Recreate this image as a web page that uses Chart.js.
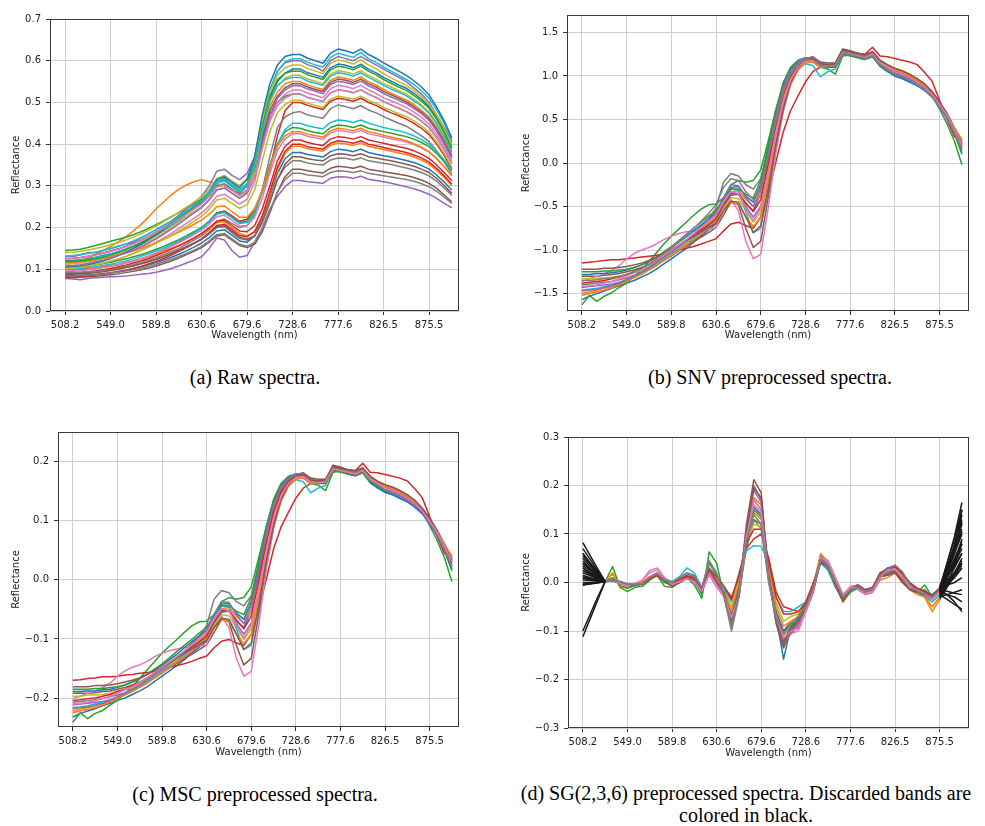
<!DOCTYPE html>
<html>
<head>
<meta charset="utf-8">
<script src="https://cdn.jsdelivr.net/npm/chart.js@4.4.1/dist/chart.umd.min.js"></script>
<style>
  body { margin: 0; background: #fff; width: 985px; height: 826px; position: relative; overflow: hidden; }
  .panel { position: absolute; }
  .cap { position: absolute; font-family: "Liberation Serif", "Times New Roman", serif; font-size: 20px;
         line-height: 22px; color: #000; text-align: center; white-space: nowrap; }
</style>
</head>
<body>
<div class="cap" style="left:0;width:510px;top:366px">(a) Raw spectra.</div>
<div class="cap" style="left:530px;width:480px;top:366px">(b) SNV preprocessed spectra.</div>
<div class="cap" style="left:0;width:510px;top:783px">(c) MSC preprocessed spectra.</div>
<div class="cap" style="left:496px;width:500px;top:782px">(d) SG(2,3,6) preprocessed spectra. Discarded bands are<br>colored in black.</div>
<script>
/* Spectra preprocessing figure — four Chart.js panels */

// ── Axes ────────────────────────────────────────────────────────────────────

const BANDS = [0,1,2,3,4,5,6,7,8,9,10,11,12,13,14,15,16,17,18,19,20,21,22,23,24,25,
               26,27,28,29,30,31,32,33,34,35,36,37,38,39,40,41,42,43,44,45,46,47,48,49,50,51];
const TICK_BANDS = [0, 6, 12, 18, 24, 30, 36, 42, 48];
const TICK_LABELS = ['508.2', '549.0', '589.8', '630.6', '679.6', '728.6', '777.6', '826.5', '875.5'];

const RAW_Y_TICKS = [0, 0.1, 0.2, 0.3, 0.4, 0.5, 0.6, 0.7];
const SNV_Y_TICKS = [-1.5, -1, -0.5, 0, 0.5, 1, 1.5];
const MSC_Y_TICKS = [-0.2, -0.1, 0, 0.1, 0.2];
const SG_Y_TICKS = [-0.3, -0.2, -0.1, 0, 0.1, 0.2, 0.3];

// SG: bands outside [3, 48] are discarded (drawn black)
const SG_FIRST_KEPT = 3;
const SG_LAST_KEPT = 48;

// ── (a) Raw spectra ─────────────────────────────────────────────────────────

const RAW_01 = [.120,.121,.123,.126,.129,.133,.137,.142,.148,.155,.163,.172,.182,.193,.205,.218,.232,.246,.258,.275,.300,.305,.292,.282,.300,.360,.450,.510,.550,.570,.580,.580,.571,.566,.560,.583,.592,.589,.583,.592,.580,.571,.560,.551,.542,.534,.522,.508,.490,.464,.432,.394];
const RAW_02 = [.110,.115,.120,.128,.136,.145,.155,.166,.178,.192,.207,.225,.245,.262,.278,.292,.302,.310,.315,.310,.305,.300,.290,.285,.300,.340,.420,.490,.525,.545,.550,.550,.542,.536,.531,.553,.561,.558,.553,.561,.550,.542,.531,.522,.514,.506,.495,.481,.465,.440,.410,.374];
const RAW_03 = [.145,.146,.148,.152,.157,.162,.167,.172,.177,.183,.190,.198,.207,.216,.226,.236,.246,.256,.268,.285,.310,.318,.310,.300,.315,.350,.420,.470,.500,.515,.520,.520,.512,.507,.502,.523,.530,.528,.523,.530,.520,.512,.502,.494,.486,.478,.468,.455,.440,.416,.387,.354];
const RAW_04 = [.095,.096,.098,.100,.102,.105,.108,.111,.115,.120,.125,.131,.138,.146,.155,.165,.176,.188,.200,.215,.235,.240,.228,.215,.220,.245,.285,.340,.420,.480,.500,.500,.493,.488,.483,.503,.510,.507,.503,.510,.500,.493,.483,.475,.468,.460,.450,.438,.423,.400,.373,.340];
const RAW_05 = [.130,.130,.135,.140,.140,.145,.150,.155,.160,.165,.175,.185,.195,.205,.215,.230,.245,.260,.275,.300,.335,.340,.325,.315,.330,.370,.460,.530,.575,.595,.600,.600,.590,.585,.575,.600,.610,.605,.600,.610,.600,.590,.580,.570,.560,.550,.535,.520,.500,.470,.440,.405];
const RAW_06 = [.125,.126,.128,.131,.135,.139,.144,.149,.155,.162,.170,.179,.189,.199,.210,.222,.234,.246,.258,.275,.298,.302,.290,.278,.290,.330,.410,.480,.515,.535,.545,.545,.537,.531,.526,.548,.556,.553,.548,.556,.545,.537,.526,.518,.510,.501,.490,.477,.461,.436,.406,.371];
const RAW_07 = [.100,.101,.103,.106,.110,.114,.119,.125,.131,.138,.146,.155,.165,.175,.186,.198,.210,.222,.235,.252,.275,.280,.268,.256,.268,.310,.390,.460,.500,.520,.530,.530,.522,.517,.511,.533,.541,.538,.533,.541,.530,.522,.511,.504,.496,.488,.477,.464,.448,.424,.395,.360];
const RAW_08 = [.088,.089,.090,.092,.094,.097,.100,.103,.107,.111,.116,.122,.128,.135,.142,.150,.160,.170,.180,.195,.215,.220,.210,.200,.205,.230,.290,.370,.440,.465,.475,.478,.470,.466,.462,.485,.494,.490,.485,.492,.482,.475,.466,.458,.450,.443,.432,.420,.406,.384,.358,.328];
const RAW_09 = [.112,.113,.115,.118,.122,.126,.131,.137,.143,.150,.158,.167,.177,.188,.200,.213,.226,.239,.250,.268,.290,.295,.283,.272,.285,.330,.430,.500,.540,.558,.565,.565,.556,.551,.545,.568,.576,.573,.568,.576,.565,.556,.545,.537,.528,.520,.508,.494,.477,.452,.421,.384];
const RAW_10 = [.118,.119,.121,.124,.128,.132,.137,.143,.149,.156,.164,.173,.183,.194,.206,.219,.232,.245,.258,.278,.305,.312,.298,.285,.300,.350,.450,.530,.575,.597,.605,.605,.596,.590,.585,.608,.618,.613,.608,.620,.605,.596,.585,.575,.565,.555,.543,.528,.510,.482,.450,.410];
const RAW_11 = [.085,.085,.086,.087,.088,.090,.092,.095,.098,.102,.106,.111,.116,.122,.129,.136,.144,.153,.163,.176,.192,.195,.182,.168,.165,.180,.220,.275,.330,.365,.380,.380,.375,.372,.369,.382,.388,.386,.382,.388,.380,.376,.372,.369,.365,.361,.356,.349,.340,.326,.309,.290];
const RAW_12 = [.100,.100,.101,.102,.104,.106,.109,.112,.116,.120,.125,.130,.136,.143,.150,.158,.166,.175,.185,.197,.212,.214,.200,.186,.180,.190,.225,.280,.340,.378,.395,.395,.389,.386,.383,.397,.403,.401,.397,.403,.395,.391,.387,.383,.379,.375,.369,.362,.352,.337,.320,.300];
const RAW_13 = [.105,.106,.107,.109,.111,.114,.117,.121,.125,.130,.135,.141,.148,.155,.163,.171,.180,.190,.200,.215,.235,.238,.225,.212,.215,.240,.290,.350,.400,.430,.440,.438,.432,.428,.425,.440,.446,.444,.440,.446,.438,.434,.430,.426,.422,.418,.412,.404,.394,.378,.358,.336];
const RAW_14 = [.090,.091,.092,.094,.096,.099,.102,.106,.110,.115,.120,.126,.133,.140,.148,.156,.165,.175,.186,.200,.215,.218,.205,.192,.190,.205,.245,.300,.360,.395,.410,.410,.404,.400,.397,.412,.418,.416,.412,.418,.410,.406,.402,.398,.394,.390,.384,.376,.366,.350,.332,.312];
const RAW_15 = [.078,.077,.075,.078,.080,.081,.082,.083,.084,.086,.088,.090,.093,.097,.102,.108,.115,.122,.130,.150,.175,.170,.145,.129,.133,.165,.200,.245,.275,.298,.313,.313,.310,.308,.306,.318,.322,.321,.318,.323,.316,.313,.310,.306,.302,.298,.293,.287,.280,.270,.258,.247];
const RAW_16 = [.080,.080,.081,.082,.083,.085,.087,.089,.092,.095,.099,.103,.108,.114,.120,.127,.135,.143,.152,.165,.180,.183,.170,.157,.152,.160,.190,.235,.285,.322,.340,.340,.336,.333,.331,.342,.347,.345,.342,.347,.340,.337,.334,.331,.328,.325,.320,.314,.306,.294,.278,.262];
const RAW_17 = [.095,.096,.097,.099,.101,.104,.107,.111,.115,.120,.126,.132,.139,.147,.155,.164,.173,.183,.194,.208,.226,.230,.217,.204,.205,.225,.270,.330,.385,.412,.425,.425,.419,.415,.412,.427,.433,.431,.427,.433,.425,.421,.417,.413,.409,.405,.399,.391,.381,.365,.346,.324];
const RAW_18 = [.092,.092,.093,.094,.095,.097,.099,.102,.105,.109,.113,.118,.124,.130,.137,.145,.153,.162,.172,.185,.200,.202,.188,.174,.170,.180,.215,.265,.315,.345,.360,.360,.355,.352,.350,.362,.367,.366,.362,.367,.360,.357,.354,.351,.347,.343,.338,.332,.324,.311,.295,.277];
const RAW_19 = [.140,.141,.143,.146,.150,.154,.159,.164,.170,.177,.185,.194,.204,.214,.225,.237,.249,.261,.273,.292,.318,.325,.312,.300,.318,.365,.455,.525,.565,.583,.590,.590,.581,.575,.569,.593,.602,.598,.592,.602,.590,.581,.569,.559,.550,.541,.529,.514,.496,.469,.437,.398];
const RAW_20 = [.100,.101,.102,.104,.106,.109,.112,.116,.120,.125,.131,.137,.144,.151,.159,.168,.177,.187,.198,.213,.232,.236,.223,.210,.212,.235,.285,.345,.400,.435,.450,.450,.444,.440,.437,.452,.458,.456,.452,.458,.450,.445,.440,.436,.432,.427,.420,.411,.400,.383,.362,.338];
const RAW_21 = [.105,.106,.108,.111,.115,.120,.126,.133,.141,.150,.160,.171,.183,.196,.210,.224,.238,.252,.265,.285,.315,.322,.308,.296,.315,.370,.470,.545,.590,.610,.615,.615,.606,.600,.594,.618,.628,.624,.618,.628,.615,.606,.595,.585,.575,.565,.552,.537,.518,.489,.456,.415];
const RAW_22 = [.115,.116,.118,.120,.123,.126,.130,.134,.139,.144,.150,.157,.164,.172,.180,.189,.198,.208,.218,.232,.250,.252,.238,.225,.225,.245,.290,.345,.395,.420,.430,.430,.424,.420,.417,.432,.438,.436,.432,.438,.430,.426,.421,.417,.413,.408,.401,.393,.382,.366,.346,.324];
const RAW_23 = [.118,.119,.120,.122,.125,.129,.134,.140,.147,.155,.164,.174,.185,.197,.210,.223,.236,.249,.262,.282,.310,.315,.302,.290,.305,.345,.440,.515,.555,.570,.575,.575,.566,.561,.555,.578,.587,.584,.578,.587,.575,.566,.555,.546,.537,.529,.517,.503,.486,.460,.428,.390];
const RAW_24 = [.082,.082,.083,.084,.086,.088,.091,.094,.098,.102,.107,.113,.119,.126,.134,.143,.152,.162,.173,.188,.205,.208,.195,.181,.178,.190,.228,.285,.345,.383,.400,.400,.394,.391,.388,.402,.408,.406,.402,.408,.400,.396,.392,.388,.384,.380,.374,.367,.357,.342,.324,.304];
const RAW_25 = [.108,.109,.111,.114,.118,.122,.127,.133,.139,.146,.154,.163,.173,.184,.196,.209,.222,.235,.248,.266,.290,.295,.282,.270,.282,.320,.400,.470,.510,.530,.540,.540,.532,.527,.521,.543,.551,.548,.543,.551,.540,.532,.521,.513,.505,.497,.486,.473,.457,.432,.402,.367];
const RAW_26 = [.088,.088,.089,.090,.092,.094,.097,.100,.104,.108,.113,.118,.124,.131,.138,.146,.154,.163,.172,.186,.202,.205,.191,.177,.172,.180,.212,.260,.315,.352,.370,.370,.365,.362,.360,.372,.377,.376,.372,.377,.370,.367,.363,.360,.356,.352,.347,.340,.332,.318,.301,.282];
const RAW_27 = [.125,.126,.128,.131,.134,.138,.143,.148,.154,.161,.169,.178,.188,.198,.209,.221,.233,.245,.257,.275,.298,.302,.290,.278,.288,.320,.390,.455,.492,.510,.520,.520,.512,.507,.502,.523,.530,.528,.523,.530,.520,.512,.502,.494,.486,.478,.468,.455,.440,.416,.387,.354];
const RAW_28 = [.084,.084,.085,.086,.087,.089,.091,.093,.096,.099,.103,.107,.112,.118,.124,.131,.138,.146,.155,.168,.183,.186,.173,.160,.155,.165,.195,.240,.285,.315,.330,.330,.326,.324,.322,.332,.336,.335,.332,.336,.330,.327,.324,.321,.318,.315,.311,.305,.298,.287,.273,.258];
const RAW_29 = [.102,.103,.105,.108,.111,.115,.120,.125,.131,.138,.145,.153,.162,.171,.181,.192,.203,.215,.227,.244,.266,.270,.258,.246,.255,.290,.360,.430,.475,.495,.505,.505,.498,.493,.488,.508,.515,.512,.508,.515,.505,.498,.488,.481,.473,.466,.456,.444,.429,.406,.378,.345];
const RAW_30 = [.132,.133,.135,.138,.141,.145,.150,.155,.161,.168,.176,.185,.195,.205,.216,.228,.240,.252,.264,.284,.310,.316,.303,.291,.305,.345,.430,.505,.540,.555,.560,.560,.551,.546,.541,.563,.571,.568,.563,.571,.560,.551,.541,.532,.524,.516,.504,.491,.474,.448,.417,.381];

// ── (b) SNV ─────────────────────────────────────────────────────────────────

const SNV_01 = [-1.57,-1.53,-1.50,-1.47,-1.44,-1.41,-1.38,-1.35,-1.31,-1.27,-1.22,-1.16,-1.10,-1.04,-.98,-.91,-.84,-.77,-.70,-.52,-.37,-.36,-.47,-.55,-.35,.05,.50,.85,1.05,1.15,1.20,1.20,1.14,1.13,1.12,1.28,1.25,1.22,1.20,1.24,1.12,1.06,1.00,.97,.93,.89,.84,.76,.65,.52,.36,.16];
const SNV_02 = [-1.50,-1.48,-1.46,-1.44,-1.42,-1.39,-1.35,-1.31,-1.26,-1.21,-1.15,-1.09,-1.03,-.97,-.90,-.83,-.76,-.69,-.62,-.48,-.33,-.32,-.42,-.50,-.36,-.02,.40,.75,.98,1.12,1.19,1.20,1.13,1.13,1.13,1.27,1.26,1.24,1.21,1.25,1.16,1.11,1.07,1.04,1.00,.95,.89,.81,.69,.57,.41,.25];
const SNV_03 = [-1.63,-1.52,-1.59,-1.53,-1.49,-1.43,-1.38,-1.30,-1.22,-1.13,-1.03,-.93,-.84,-.76,-.68,-.60,-.53,-.48,-.47,-.40,-.25,-.20,-.22,-.20,-.08,.25,.60,.90,1.08,1.16,1.17,1.16,1.10,1.08,1.02,1.23,1.24,1.23,1.21,1.25,1.15,1.09,1.04,1.01,.97,.92,.86,.77,.62,.45,.25,-.02];
const SNV_04 = [-1.15,-1.14,-1.13,-1.12,-1.11,-1.11,-1.10,-1.09,-1.08,-1.07,-1.06,-1.05,-1.02,-1.00,-.98,-.96,-.93,-.90,-.87,-.78,-.70,-.68,-.72,-.75,-.62,-.35,.00,.35,.60,.77,.93,1.05,1.10,1.12,1.14,1.26,1.27,1.26,1.25,1.33,1.23,1.22,1.20,1.18,1.16,1.13,1.04,.94,.72,.50,.30,.28];
const SNV_05 = [-1.43,-1.42,-1.41,-1.40,-1.39,-1.37,-1.34,-1.31,-1.27,-1.22,-1.17,-1.12,-1.07,-1.01,-.95,-.89,-.82,-.75,-.68,-.50,-.36,-.36,-.50,-.62,-.50,-.12,.30,.68,.93,1.09,1.17,1.18,1.12,1.12,1.13,1.29,1.27,1.25,1.23,1.27,1.16,1.10,1.06,1.03,.99,.94,.88,.79,.67,.54,.37,.21];
const SNV_06 = [-1.30,-1.30,-1.30,-1.29,-1.28,-1.27,-1.25,-1.23,-1.20,-1.17,-1.13,-1.09,-1.05,-1.00,-.95,-.90,-.85,-.80,-.74,-.60,-.45,-.48,-.75,-.97,-.90,-.40,.15,.60,.92,1.10,1.20,1.22,1.16,1.15,1.15,1.31,1.29,1.26,1.24,1.28,1.18,1.12,1.08,1.05,1.01,.96,.90,.82,.70,.57,.40,.26];
const SNV_07 = [-1.36,-1.33,-1.30,-1.27,-1.23,-1.18,-1.10,-1.04,-1.00,-.97,-.93,-.88,-.84,-.81,-.79,-.78,-.77,-.76,-.74,-.55,-.42,-.55,-.90,-1.10,-1.05,-.52,.10,.58,.90,1.08,1.17,1.18,1.12,1.12,1.13,1.27,1.25,1.23,1.21,1.25,1.15,1.09,1.04,1.00,.96,.91,.85,.77,.66,.53,.37,.20];
const SNV_08 = [-1.40,-1.39,-1.38,-1.37,-1.36,-1.34,-1.32,-1.29,-1.25,-1.21,-1.16,-1.10,-1.04,-.97,-.90,-.82,-.73,-.64,-.52,-.22,-.12,-.15,-.25,-.30,-.18,.15,.50,.82,1.02,1.13,1.19,1.19,1.12,1.12,1.12,1.27,1.25,1.22,1.20,1.23,1.13,1.07,1.02,.99,.95,.90,.85,.77,.66,.54,.38,.24];
const SNV_09 = [-1.33,-1.33,-1.32,-1.32,-1.31,-1.30,-1.28,-1.26,-1.23,-1.19,-1.14,-1.09,-1.03,-.97,-.91,-.85,-.79,-.73,-.67,-.52,-.40,-.41,-.55,-.68,-.56,-.18,.25,.65,.92,1.08,1.16,1.17,1.11,1.11,1.12,1.28,1.26,1.24,1.22,1.26,1.16,1.10,1.06,1.03,.99,.95,.89,.81,.69,.56,.40,.24];
const SNV_10 = [-1.46,-1.45,-1.44,-1.42,-1.40,-1.38,-1.35,-1.31,-1.27,-1.22,-1.17,-1.11,-1.05,-.99,-.93,-.86,-.79,-.72,-.65,-.47,-.30,-.31,-.56,-.80,-.75,-.30,.20,.62,.92,1.08,1.14,1.12,.99,1.05,1.08,1.25,1.25,1.23,1.21,1.25,1.15,1.09,1.05,1.02,.98,.93,.87,.79,.67,.55,.39,.22];
const SNV_11 = [-1.28,-1.28,-1.27,-1.27,-1.26,-1.25,-1.23,-1.20,-1.17,-1.13,-1.08,-1.03,-.97,-.91,-.85,-.78,-.71,-.64,-.57,-.42,-.28,-.27,-.38,-.45,-.25,.15,.55,.88,1.07,1.17,1.21,1.20,1.14,1.13,1.12,1.27,1.24,1.21,1.19,1.22,1.11,1.05,1.00,.97,.93,.89,.83,.76,.64,.51,.34,.12];
const SNV_12 = [-1.52,-1.50,-1.48,-1.46,-1.43,-1.40,-1.36,-1.32,-1.28,-1.23,-1.18,-1.12,-1.06,-1.00,-.94,-.88,-.81,-.74,-.67,-.55,-.45,-.47,-.62,-.73,-.62,-.22,.22,.62,.90,1.07,1.15,1.16,1.10,1.10,1.11,1.26,1.25,1.23,1.21,1.25,1.16,1.11,1.07,1.04,1.00,.95,.89,.80,.68,.55,.39,.27];
const SNV_13 = [-1.25,-1.25,-1.25,-1.24,-1.24,-1.23,-1.22,-1.20,-1.17,-1.13,-1.08,-1.02,-.96,-.89,-.82,-.75,-.68,-.61,-.55,-.40,-.30,-.30,-.36,-.40,-.20,.20,.60,.92,1.10,1.18,1.21,1.20,1.12,1.10,1.10,1.25,1.23,1.21,1.19,1.22,1.12,1.06,1.02,.99,.96,.92,.87,.79,.66,.52,.34,.10];
const SNV_14 = [-1.38,-1.37,-1.36,-1.35,-1.33,-1.31,-1.28,-1.25,-1.21,-1.17,-1.12,-1.07,-1.01,-.95,-.89,-.83,-.77,-.71,-.64,-.48,-.35,-.35,-.46,-.56,-.42,-.02,.42,.78,1.00,1.12,1.18,1.19,1.13,1.12,1.12,1.27,1.26,1.23,1.21,1.25,1.15,1.09,1.05,1.02,.98,.93,.87,.79,.67,.54,.37,.19];
const SNV_15 = [-1.47,-1.46,-1.45,-1.43,-1.41,-1.38,-1.34,-1.30,-1.25,-1.20,-1.14,-1.08,-1.02,-.96,-.89,-.82,-.74,-.66,-.58,-.40,-.25,-.26,-.40,-.50,-.30,.10,.52,.86,1.06,1.16,1.21,1.21,1.14,1.13,1.13,1.29,1.27,1.24,1.22,1.26,1.15,1.09,1.04,1.00,.96,.91,.85,.77,.65,.52,.35,.15];
const SNV_16 = [-1.22,-1.22,-1.22,-1.21,-1.21,-1.20,-1.19,-1.17,-1.15,-1.12,-1.08,-1.04,-.99,-.94,-.89,-.84,-.79,-.74,-.69,-.55,-.44,-.45,-.62,-.80,-.72,-.30,.20,.62,.92,1.09,1.18,1.20,1.14,1.13,1.14,1.30,1.28,1.26,1.24,1.28,1.18,1.13,1.09,1.06,1.02,.97,.91,.82,.70,.56,.38,.22];
const SNV_17 = [-1.42,-1.41,-1.40,-1.38,-1.36,-1.33,-1.30,-1.26,-1.22,-1.17,-1.12,-1.06,-1.00,-.94,-.88,-.81,-.74,-.67,-.60,-.45,-.33,-.35,-.52,-.66,-.52,-.12,.32,.70,.95,1.10,1.17,1.18,1.12,1.11,1.12,1.27,1.25,1.23,1.21,1.25,1.15,1.10,1.05,1.02,.98,.93,.87,.79,.67,.55,.38,.20];
const SNV_18 = [-1.35,-1.35,-1.34,-1.33,-1.32,-1.30,-1.28,-1.25,-1.21,-1.16,-1.10,-1.04,-.97,-.90,-.83,-.75,-.67,-.58,-.48,-.28,-.18,-.20,-.33,-.42,-.28,.08,.46,.80,1.02,1.13,1.19,1.19,1.12,1.11,1.11,1.26,1.24,1.22,1.20,1.23,1.13,1.07,1.02,.99,.95,.90,.84,.76,.64,.51,.35,.17];

// ── (c) MSC ─────────────────────────────────────────────────────────────────

const MSC_01 = [-.232,-.226,-.222,-.218,-.213,-.209,-.204,-.200,-.194,-.188,-.181,-.172,-.163,-.154,-.145,-.135,-.124,-.114,-.104,-.077,-.055,-.053,-.070,-.081,-.052,.007,.074,.126,.155,.170,.178,.178,.169,.167,.166,.189,.185,.181,.178,.184,.166,.157,.148,.144,.138,.132,.124,.112,.096,.077,.053,.024];
const MSC_02 = [-.222,-.219,-.216,-.213,-.210,-.206,-.200,-.194,-.186,-.179,-.170,-.161,-.152,-.144,-.133,-.123,-.112,-.102,-.092,-.071,-.049,-.047,-.062,-.074,-.053,-.003,.059,.111,.145,.166,.176,.178,.167,.167,.167,.188,.186,.184,.179,.185,.172,.164,.158,.154,.148,.141,.132,.120,.102,.084,.061,.037];
const MSC_03 = [-.241,-.225,-.235,-.226,-.221,-.212,-.204,-.192,-.181,-.167,-.152,-.138,-.124,-.112,-.101,-.089,-.078,-.071,-.070,-.059,-.037,-.030,-.033,-.030,-.012,.037,.089,.133,.160,.172,.173,.172,.163,.160,.151,.182,.184,.182,.179,.185,.170,.161,.154,.149,.144,.136,.127,.114,.092,.067,.037,-.003];
const MSC_04 = [-.170,-.169,-.167,-.166,-.164,-.164,-.163,-.161,-.160,-.158,-.157,-.155,-.151,-.148,-.145,-.142,-.138,-.133,-.129,-.115,-.104,-.101,-.107,-.111,-.092,-.052,.000,.052,.089,.114,.138,.155,.163,.166,.169,.186,.188,.186,.185,.197,.182,.181,.178,.175,.172,.167,.154,.139,.107,.074,.044,.041];
const MSC_05 = [-.212,-.210,-.209,-.207,-.206,-.203,-.198,-.194,-.188,-.181,-.173,-.166,-.158,-.149,-.141,-.132,-.121,-.111,-.101,-.074,-.053,-.053,-.074,-.092,-.074,-.018,.044,.101,.138,.161,.173,.175,.166,.166,.167,.191,.188,.185,.182,.188,.172,.163,.157,.152,.147,.139,.130,.117,.099,.080,.055,.031];
const MSC_06 = [-.192,-.192,-.192,-.191,-.189,-.188,-.185,-.182,-.178,-.173,-.167,-.161,-.155,-.148,-.141,-.133,-.126,-.118,-.110,-.089,-.067,-.071,-.111,-.144,-.133,-.059,.022,.089,.136,.163,.178,.181,.172,.170,.170,.194,.191,.186,.184,.189,.175,.166,.160,.155,.149,.142,.133,.121,.104,.084,.059,.038];
const MSC_07 = [-.201,-.197,-.192,-.188,-.182,-.175,-.163,-.154,-.148,-.144,-.138,-.130,-.124,-.120,-.117,-.115,-.114,-.112,-.110,-.081,-.062,-.081,-.133,-.163,-.155,-.077,.015,.086,.133,.160,.173,.175,.166,.166,.167,.188,.185,.182,.179,.185,.170,.161,.154,.148,.142,.135,.126,.114,.098,.078,.055,.030];
const MSC_08 = [-.207,-.206,-.204,-.203,-.201,-.198,-.195,-.191,-.185,-.179,-.172,-.163,-.154,-.144,-.133,-.121,-.108,-.095,-.077,-.033,-.018,-.022,-.037,-.044,-.027,.022,.074,.121,.151,.167,.176,.176,.166,.166,.166,.188,.185,.181,.178,.182,.167,.158,.151,.147,.141,.133,.126,.114,.098,.080,.056,.036];
const MSC_09 = [-.197,-.197,-.195,-.195,-.194,-.192,-.189,-.186,-.182,-.176,-.169,-.161,-.152,-.144,-.135,-.126,-.117,-.108,-.099,-.077,-.059,-.061,-.081,-.101,-.083,-.027,.037,.096,.136,.160,.172,.173,.164,.164,.166,.189,.186,.184,.181,.186,.172,.163,.157,.152,.147,.141,.132,.120,.102,.083,.059,.036];
const MSC_10 = [-.216,-.215,-.213,-.210,-.207,-.204,-.200,-.194,-.188,-.181,-.173,-.164,-.155,-.147,-.138,-.127,-.117,-.107,-.096,-.070,-.044,-.046,-.083,-.118,-.111,-.044,.030,.092,.136,.160,.169,.166,.147,.155,.160,.185,.185,.182,.179,.185,.170,.161,.155,.151,.145,.138,.129,.117,.099,.081,.058,.033];
const MSC_11 = [-.189,-.189,-.188,-.188,-.186,-.185,-.182,-.178,-.173,-.167,-.160,-.152,-.144,-.135,-.126,-.115,-.105,-.095,-.084,-.062,-.041,-.040,-.056,-.067,-.037,.022,.081,.130,.158,.173,.179,.178,.169,.167,.166,.188,.184,.179,.176,.181,.164,.155,.148,.144,.138,.132,.123,.112,.095,.075,.050,.018];
const MSC_12 = [-.225,-.222,-.219,-.216,-.212,-.207,-.201,-.195,-.189,-.182,-.175,-.166,-.157,-.148,-.139,-.130,-.120,-.110,-.099,-.081,-.067,-.070,-.092,-.108,-.092,-.033,.033,.092,.133,.158,.170,.172,.163,.163,.164,.186,.185,.182,.179,.185,.172,.164,.158,.154,.148,.141,.132,.118,.101,.081,.058,.040];
const MSC_13 = [-.185,-.185,-.185,-.184,-.184,-.182,-.181,-.178,-.173,-.167,-.160,-.151,-.142,-.132,-.121,-.111,-.101,-.090,-.081,-.059,-.044,-.044,-.053,-.059,-.030,.030,.089,.136,.163,.175,.179,.178,.166,.163,.163,.185,.182,.179,.176,.181,.166,.157,.151,.147,.142,.136,.129,.117,.098,.077,.050,.015];
const MSC_14 = [-.204,-.203,-.201,-.200,-.197,-.194,-.189,-.185,-.179,-.173,-.166,-.158,-.149,-.141,-.132,-.123,-.114,-.105,-.095,-.071,-.052,-.052,-.068,-.083,-.062,-.003,.062,.115,.148,.166,.175,.176,.167,.166,.166,.188,.186,.182,.179,.185,.170,.161,.155,.151,.145,.138,.129,.117,.099,.080,.055,.028];
const MSC_15 = [-.218,-.216,-.215,-.212,-.209,-.204,-.198,-.192,-.185,-.178,-.169,-.160,-.151,-.142,-.132,-.121,-.110,-.098,-.086,-.059,-.037,-.038,-.059,-.074,-.044,.015,.077,.127,.157,.172,.179,.179,.169,.167,.167,.191,.188,.184,.181,.186,.170,.161,.154,.148,.142,.135,.126,.114,.096,.077,.052,.022];
const MSC_16 = [-.181,-.181,-.181,-.179,-.179,-.178,-.176,-.173,-.170,-.166,-.160,-.154,-.147,-.139,-.132,-.124,-.117,-.110,-.102,-.081,-.065,-.067,-.092,-.118,-.107,-.044,.030,.092,.136,.161,.175,.178,.169,.167,.169,.192,.189,.186,.184,.189,.175,.167,.161,.157,.151,.144,.135,.121,.104,.083,.056,.033];
const MSC_17 = [-.210,-.209,-.207,-.204,-.201,-.197,-.192,-.186,-.181,-.173,-.166,-.157,-.148,-.139,-.130,-.120,-.110,-.099,-.089,-.067,-.049,-.052,-.077,-.098,-.077,-.018,.047,.104,.141,.163,.173,.175,.166,.164,.166,.188,.185,.182,.179,.185,.170,.163,.155,.151,.145,.138,.129,.117,.099,.081,.056,.030];

// ── (d) SG(2,3,6) ───────────────────────────────────────────────────────────

const SG_01 = [.030,.020,.010,.002,.004,.000,-.004,-.003,-.002,.008,.015,.003,-.004,.002,.010,.005,-.015,.020,.000,-.020,-.070,-.010,.100,.170,.150,.020,-.070,-.158,-.090,-.080,-.050,-.010,.050,.030,.000,-.030,-.015,-.012,-.020,-.018,.010,.020,.030,.010,-.010,-.015,-.020,-.030,-.020,.020,.060,.100];
const SG_02 = [.000,.000,.001,.002,.020,-.010,-.010,-.005,.000,.010,.020,.000,-.002,.008,.015,.010,-.020,.025,.005,-.018,-.060,.000,.095,.175,.160,.030,-.060,-.110,-.085,-.075,-.045,-.005,.058,.030,-.005,-.040,-.020,-.010,-.025,-.020,.005,.010,.020,.000,-.015,-.025,-.030,-.060,-.035,-.010,.015,.040];
const SG_03 = [.082,.055,.028,.002,.033,-.010,-.019,-.010,-.008,.005,.015,-.008,-.010,.000,.010,-.005,-.033,.063,.040,-.030,-.090,-.020,.070,.130,.120,.010,-.080,-.130,-.090,-.070,-.040,-.010,.045,.025,-.010,-.035,-.020,-.010,-.015,-.010,.015,.020,.022,.005,-.010,-.020,-.005,-.030,-.020,.000,.020,.040];
const SG_04 = [.040,.027,.014,.002,.005,.000,-.005,-.005,-.003,.010,.018,.005,.000,.005,.012,.008,-.012,.025,.010,-.010,-.030,.010,.070,.090,.100,.050,-.020,-.050,-.055,-.060,-.040,.000,.040,.030,.005,-.025,-.010,-.005,-.015,-.010,.020,.025,.030,.015,-.005,-.015,-.020,-.030,-.015,-.018,-.022,-.025];
const SG_05 = [.020,.014,.008,.002,.003,-.002,-.006,-.004,.000,.012,.020,.004,-.005,.004,.012,.006,-.018,.022,-.002,-.022,-.075,-.020,.110,.200,.170,.015,-.080,-.120,-.100,-.085,-.050,-.012,.050,.035,-.002,-.030,-.010,-.005,-.015,-.010,.015,.018,.025,.005,-.015,-.020,-.030,-.035,-.015,.030,.080,.130];
const SG_06 = [-.005,-.003,-.001,.002,.005,.000,-.005,-.006,-.004,.008,.016,.002,-.008,.000,.008,.004,-.022,.030,.000,-.025,-.085,-.025,.120,.212,.185,.010,-.085,-.135,-.100,-.080,-.060,-.020,.045,.030,-.008,-.040,-.015,-.010,-.020,-.015,.012,.015,.020,.000,-.015,-.020,-.025,-.030,-.010,.040,.095,.165];
const SG_07 = [.010,.007,.004,.002,.006,-.002,-.008,-.002,.005,.025,.030,.010,-.005,.002,.008,.000,-.020,.015,-.010,-.030,-.070,-.030,.090,.170,.150,.000,-.075,-.125,-.105,-.100,-.060,-.015,.055,.045,.010,-.025,-.010,-.015,-.025,-.020,.010,.030,.030,.010,-.010,-.015,-.025,-.035,-.020,.010,.040,.070];
const SG_08 = [-.100,-.065,-.030,.002,.004,.002,-.003,-.004,-.002,.010,.018,.005,.000,.010,.020,.015,-.010,.045,.020,-.030,-.100,-.030,.080,.130,.110,.000,-.070,-.100,-.080,-.070,-.050,-.010,.050,.035,.000,-.030,-.015,-.010,-.020,-.012,.015,.025,.035,.020,-.005,-.020,-.025,-.030,-.015,.005,.020,.035];
const SG_09 = [.035,.024,.013,.002,.003,.000,-.004,-.003,-.001,.010,.016,.004,-.003,.006,.014,.010,-.014,.028,.008,-.015,-.050,.005,.085,.120,.115,.030,-.040,-.080,-.070,-.065,-.045,-.005,.045,.030,.000,-.030,-.012,-.008,-.018,-.012,.015,.025,.035,.015,-.005,-.020,-.025,-.035,-.020,.015,.050,.085];
const SG_10 = [.060,.040,.021,.002,.004,.002,-.004,-.003,.000,.010,.020,.008,.002,.012,.030,.020,-.010,.030,.015,-.012,-.040,.020,.065,.076,.075,.040,-.030,-.060,-.060,-.050,-.040,-.005,.040,.025,-.005,-.035,-.020,-.012,-.022,-.015,.012,.020,.028,.010,-.010,-.020,-.030,-.040,-.025,-.035,-.045,-.055];
const SG_11 = [.015,.010,.006,.002,.003,.000,-.005,-.004,-.002,.009,.017,.004,-.004,.004,.012,.007,-.016,.024,.004,-.020,-.065,-.010,.100,.155,.140,.020,-.060,-.100,-.085,-.075,-.050,-.010,.055,.040,.005,-.030,-.010,-.008,-.018,-.010,.018,.030,.035,.018,.000,-.012,-.020,-.025,-.012,.030,.070,.120];
const SG_12 = [.005,.004,.003,.002,.018,-.008,-.012,-.006,.000,.012,.020,.002,-.006,.004,.010,.006,-.020,.030,.006,-.020,-.060,.000,.095,.145,.130,.025,-.050,-.090,-.080,-.070,-.045,-.008,.060,.042,.005,-.028,-.008,-.006,-.020,-.012,.012,.020,.030,.012,-.008,-.018,-.030,-.050,-.030,-.005,.020,.045];
const SG_13 = [.025,.017,.009,.002,.010,-.006,-.012,-.006,-.002,.010,.016,.000,-.006,.002,.010,.004,-.025,.040,.015,-.025,-.080,-.015,.090,.150,.135,.015,-.070,-.120,-.090,-.070,-.045,-.008,.050,.030,.000,-.035,-.018,-.010,-.020,-.015,.012,.020,.025,.008,-.010,-.020,-.015,-.030,-.018,.015,.045,.080];
const SG_14 = [.055,.037,.019,.002,.004,.000,-.004,-.004,-.002,.008,.014,.004,-.002,.006,.014,.010,-.012,.026,.012,-.008,-.035,.015,.080,.110,.110,.045,-.030,-.065,-.065,-.060,-.042,-.004,.042,.032,.004,-.028,-.012,-.006,-.016,-.010,.020,.028,.032,.018,-.002,-.012,-.018,-.028,-.012,.010,.035,.060];
const SG_15 = [-.003,-.002,.000,.002,.004,-.002,-.006,-.005,-.002,.010,.018,.004,-.006,.002,.010,.005,-.020,.024,-.004,-.024,-.080,-.022,.110,.190,.165,.012,-.080,-.125,-.105,-.090,-.055,-.015,.048,.036,.002,-.030,-.012,-.008,-.018,-.012,.014,.022,.026,.008,-.012,-.018,-.026,-.032,-.014,.025,.065,.105];
const SG_16 = [.040,.027,.014,.002,.005,.000,-.005,-.005,-.003,.009,.016,.003,-.006,.002,.010,.005,-.020,.028,.002,-.022,-.078,-.022,.105,.195,.175,.012,-.078,-.125,-.095,-.078,-.055,-.016,.046,.032,-.004,-.036,-.016,-.010,-.020,-.014,.012,.016,.022,.004,-.014,-.020,-.026,-.032,-.014,.000,.015,.030];
const SG_17 = [.030,.020,.011,.002,.005,-.002,-.006,-.002,.004,.020,.026,.008,-.004,.002,.008,.002,-.018,.018,-.006,-.028,-.072,-.028,.095,.160,.145,.005,-.070,-.115,-.100,-.095,-.058,-.014,.052,.042,.008,-.026,-.010,-.012,-.022,-.018,.010,.026,.028,.010,-.010,-.016,-.024,-.034,-.018,.040,.090,.150];
const SG_18 = [.008,.006,.004,.002,.004,.002,-.003,-.004,-.002,.010,.018,.005,.000,.010,.018,.013,-.010,.040,.018,-.028,-.090,-.028,.085,.140,.120,.005,-.072,-.105,-.085,-.072,-.050,-.010,.048,.034,.000,-.030,-.015,-.010,-.020,-.012,.015,.028,.036,.022,-.004,-.018,-.024,-.030,-.015,-.025,-.040,-.060];

// extra discarded-band strokes (black only): left = bands 0..3, right = bands 48..51
const SG_LEFT_EXTRA = [
  [.070,.047,.024,.002], [.060,.040,.021,.002], [.045,.030,.016,.002], [.025,.017,.009,.002],
  [-.005,-.002,.000,.002], [-.112,-.074,-.036,.002], [.050,.034,.018,.002], [.012,.009,.005,.002],
];
const SG_RIGHT_EXTRA = [
  [-.015,.030,.075,.150], [-.020,.025,.070,.140], [-.010,.030,.070,.110], [-.020,.010,.040,.090],
  [-.015,.010,.035,.080], [-.025,.000,.030,.060], [-.020,-.005,.010,.030], [-.010,-.005,.000,.010],
  [-.030,-.025,-.020,-.015], [-.020,-.025,-.030,-.040], [-.025,.020,.060,.125], [-.030,-.005,.020,.050],
];

const RAW_SPECTRA = [RAW_01, RAW_02, RAW_03, RAW_04, RAW_05, RAW_06, RAW_07, RAW_08, RAW_09, RAW_10,
                     RAW_11, RAW_12, RAW_13, RAW_14, RAW_15, RAW_16, RAW_17, RAW_18, RAW_19, RAW_20,
                     RAW_21, RAW_22, RAW_23, RAW_24, RAW_25, RAW_26, RAW_27, RAW_28, RAW_29, RAW_30];
const SNV_SPECTRA = [SNV_01, SNV_02, SNV_03, SNV_04, SNV_05, SNV_06, SNV_07, SNV_08, SNV_09,
                     SNV_10, SNV_11, SNV_12, SNV_13, SNV_14, SNV_15, SNV_16, SNV_17, SNV_18];
const MSC_SPECTRA = [MSC_01, MSC_02, MSC_03, MSC_04, MSC_05, MSC_06, MSC_07, MSC_08, MSC_09,
                     MSC_10, MSC_11, MSC_12, MSC_13, MSC_14, MSC_15, MSC_16, MSC_17];
const SG_SPECTRA = [SG_01, SG_02, SG_03, SG_04, SG_05, SG_06, SG_07, SG_08, SG_09,
                    SG_10, SG_11, SG_12, SG_13, SG_14, SG_15, SG_16, SG_17, SG_18];

// ── Styling ────────────────────────────────────────────────────────────────

const TAB10 = ['#1f77b4', '#ff7f0e', '#2ca02c', '#d62728', '#9467bd',
               '#8c564b', '#e377c2', '#7f7f7f', '#bcbd22', '#17becf'];
const DISCARD_COLOR = '#1a1a1a';
const FONT = { family: '"DejaVu Sans", Verdana, sans-serif', size: 10 };
const TEXT_COLOR = '#222';
const AXIS_W = 50, AXIS_H = 40, PAD_T = 8, PAD_R = 8;
const X_MIN = -2.0, X_MAX = 51.95;

Chart.defaults.animation = false;
Chart.defaults.font.family = FONT.family;
Chart.defaults.font.size = FONT.size;
Chart.defaults.color = TEXT_COLOR;

function fmt_tick(v) {
  return (v < 0 ? '\u2212' : '') + Math.abs(v).toFixed(1);
}

function points(values, first) {
  return values.map((y, j) => ({ x: BANDS[first + j], y }));
}

// spines on all four sides, like matplotlib
const frame_plugin = {
  id: 'frame',
  afterDraw(chart) {
    const { ctx, chartArea: a } = chart;
    ctx.save();
    ctx.strokeStyle = '#3a3a3a';
    ctx.lineWidth = 1;
    ctx.strokeRect(Math.round(a.left) + 0.5, Math.round(a.top) + 0.5,
                   Math.round(a.right - a.left) - 1, Math.round(a.bottom - a.top) - 1);
    ctx.restore();
  },
};

// matplotlib draws later lines on top; Chart.js draws dataset 0 last, so reverse the order
function spectrum_dataset(values, i, discard) {
  const ds = {
    data: points(values, 0),
    borderColor: TAB10[i % TAB10.length],
    borderWidth: 1.5,
    borderJoinStyle: 'round',
    pointRadius: 0,
    tension: 0,
    fill: false,
    order: -i,
  };
  if (discard) {
    ds.segment = {
      borderColor: ctx => (ctx.p1DataIndex <= SG_FIRST_KEPT || ctx.p0DataIndex >= SG_LAST_KEPT)
        ? DISCARD_COLOR : undefined,
    };
  }
  return ds;
}

function black_dataset(values, first) {
  return { data: points(values, first), borderColor: DISCARD_COLOR, borderWidth: 1.5,
           pointRadius: 0, tension: 0, fill: false, order: -100 };
}

function make_panel(p) {
  const wrap = document.createElement('div');
  wrap.className = 'panel';
  wrap.style.left = (p.box.left - AXIS_W) + 'px';
  wrap.style.top = (p.box.top - PAD_T) + 'px';
  const cv = document.createElement('canvas');
  const w = p.box.width + AXIS_W + PAD_R;
  const h = p.box.height + PAD_T + AXIS_H;
  cv.width = w; cv.height = h;
  cv.style.width = w + 'px'; cv.style.height = h + 'px';
  wrap.appendChild(cv);
  document.body.appendChild(wrap);

  new Chart(cv, {
    type: 'line',
    data: { datasets: p.datasets },
    options: {
      responsive: false,
      devicePixelRatio: 1,
      layout: { padding: { left: 0, top: PAD_T, right: PAD_R, bottom: 0 } },
      plugins: { legend: { display: false }, tooltip: { enabled: false } },
      scales: {
        x: {
          type: 'linear', min: X_MIN, max: X_MAX,
          afterBuildTicks: s => { s.ticks = TICK_BANDS.map(v => ({ value: v })); },
          afterFit: s => { s.height = AXIS_H; },
          ticks: { autoSkip: false, maxRotation: 0, padding: 4, color: TEXT_COLOR,
                   callback: (v, i) => TICK_LABELS[i] },
          grid: { color: '#cfcfcf', lineWidth: 1, tickColor: '#333', tickLength: 4 },
          border: { display: false },
          title: { display: true, text: 'Wavelength (nm)', color: TEXT_COLOR,
                   padding: { top: 0, bottom: p.xTitlePad } },
        },
        y: {
          type: 'linear', min: p.yMin, max: p.yMax,
          afterBuildTicks: s => { s.ticks = p.yTicks.map(v => ({ value: v })); },
          afterFit: s => { s.width = AXIS_W; },
          ticks: { padding: 5, color: TEXT_COLOR, callback: v => fmt_tick(v) },
          grid: { color: '#cfcfcf', lineWidth: 1, tickColor: '#333', tickLength: 4 },
          border: { display: false },
          title: { display: true, text: 'Reflectance', color: TEXT_COLOR,
                   padding: { top: p.yTitlePad, bottom: 0 } },
        },
      },
    },
    plugins: [frame_plugin],
  });
}

// ── Panels ─────────────────────────────────────────────────────────────────

make_panel({
  box: { left: 50, top: 16, width: 409, height: 295 },
  yMin: 0, yMax: 0.7, yTicks: RAW_Y_TICKS, yTitlePad: 10.7, xTitlePad: 10,
  datasets: RAW_SPECTRA.map((s, i) => spectrum_dataset(s, i, false)),
});

make_panel({
  box: { left: 567, top: 12, width: 402, height: 299 },
  yMin: -1.70, yMax: 1.70, yTicks: SNV_Y_TICKS, yTitlePad: 3.7, xTitlePad: 10,
  datasets: SNV_SPECTRA.map((s, i) => spectrum_dataset(s, i, false)),
});

make_panel({
  box: { left: 58, top: 429, width: 401, height: 298 },
  yMin: -0.249, yMax: 0.250, yTicks: MSC_Y_TICKS, yTitlePad: 2.7, xTitlePad: 9,
  datasets: MSC_SPECTRA.map((s, i) => spectrum_dataset(s, i, false)),
});

make_panel({
  box: { left: 568, top: 434, width: 401, height: 294 },
  yMin: -0.3, yMax: 0.3, yTicks: SG_Y_TICKS, yTitlePad: 2.7, xTitlePad: 9,
  datasets: SG_SPECTRA.map((s, i) => spectrum_dataset(s, i, true))
    .concat(SG_LEFT_EXTRA.map(s => black_dataset(s, 0)))
    .concat(SG_RIGHT_EXTRA.map(s => black_dataset(s, SG_LAST_KEPT))),
});
</script>
</body>
</html>
